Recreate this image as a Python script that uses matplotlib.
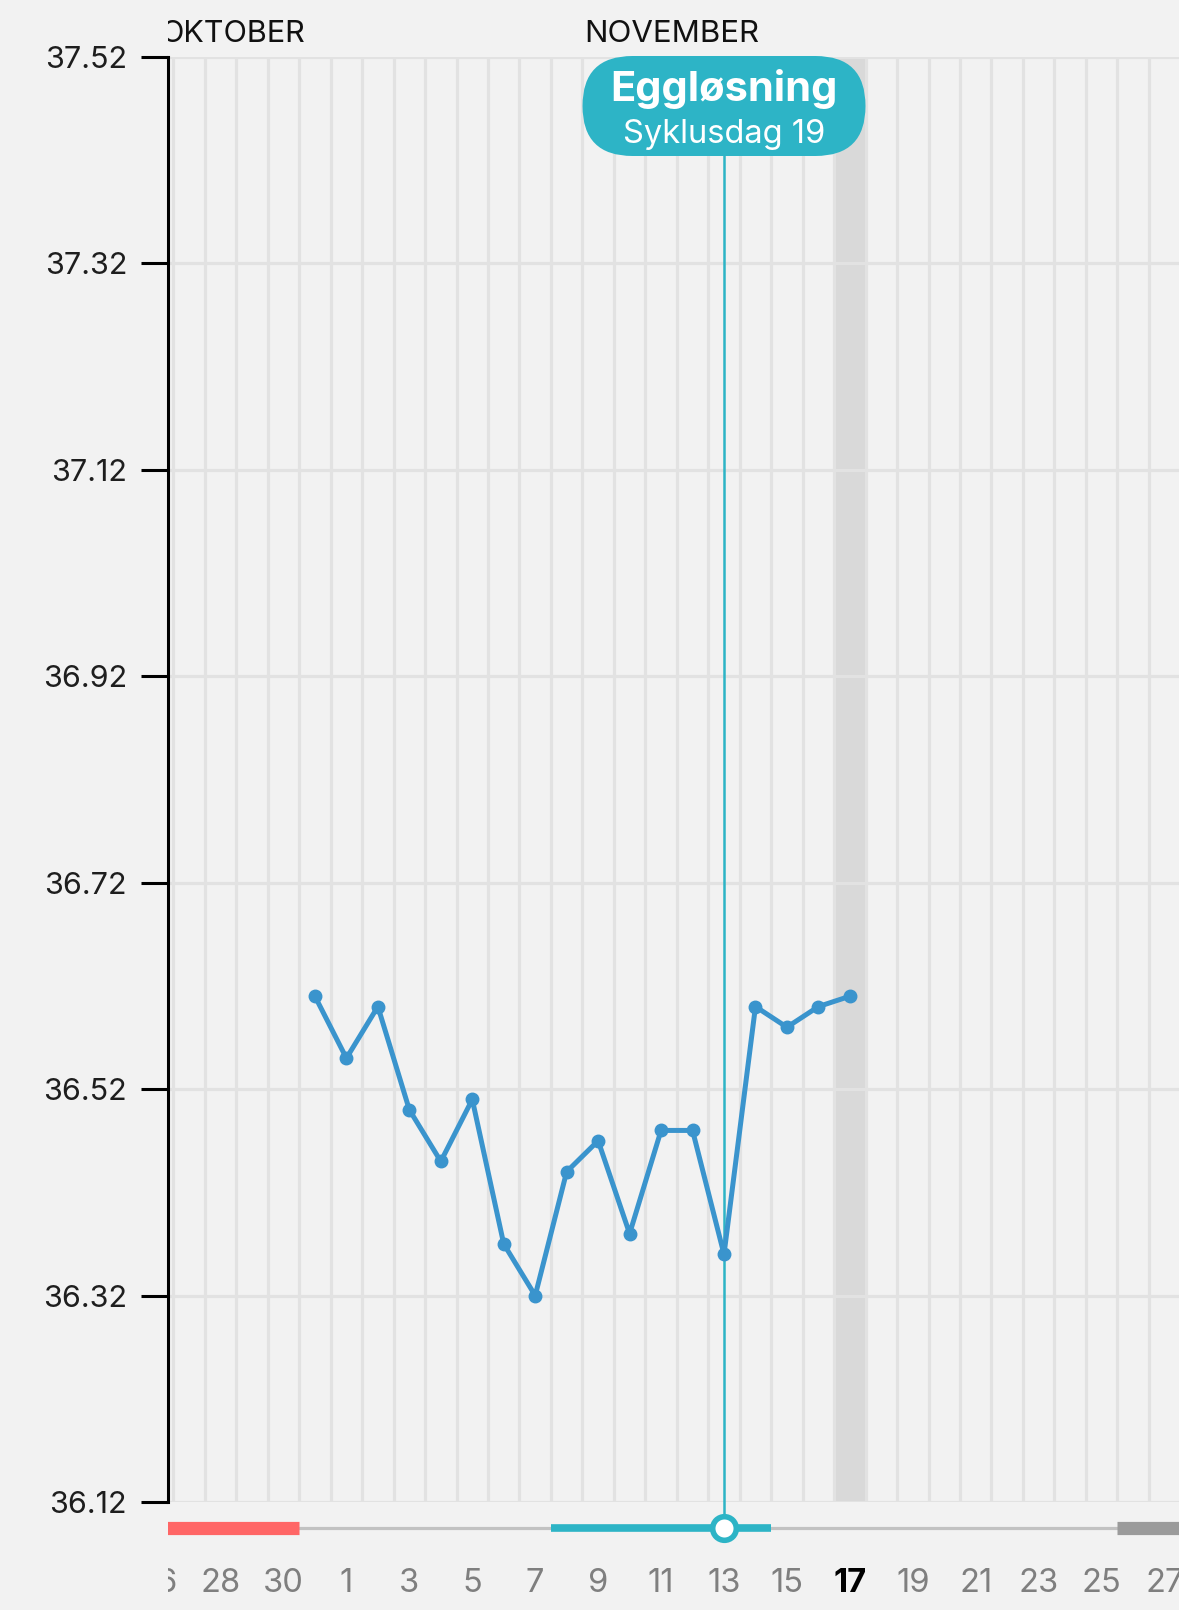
import numpy as np
import pandas as pd
import matplotlib
matplotlib.use("Agg")
import matplotlib.pyplot as plt
from matplotlib.patches import FancyBboxPatch

plt.rcParams['font.family'] = ['Inter', 'DejaVu Sans']

# data
cycle_start = pd.Timestamp('2023-10-26')
temp_dates = pd.date_range('2023-10-31', '2023-11-17')
temps = [36.61, 36.55, 36.60, 36.50, 36.45, 36.51, 36.37, 36.32, 36.44,
         36.47, 36.38, 36.48, 36.48, 36.36, 36.60, 36.58, 36.60, 36.61]
ovulation = pd.Timestamp('2023-11-13')
cycle_day = 19
today = pd.Timestamp('2023-11-17')
period = ('2023-10-26', '2023-10-30')
fertile = ('2023-11-08', '2023-11-14')
next_period = ('2023-11-26', '2023-12-01')
y_ticks = [36.12, 36.32, 36.52, 36.72, 36.92, 37.12, 37.32, 37.52]
months = ['OKTOBER', 'NOVEMBER']
label_dates = pd.date_range('2023-10-26', '2023-11-27', freq='2D')

W, H, DPI = 1179, 1610, 100
BG = '#f2f2f2'
TEAL = '#2db4c6'
BLUE = '#3a94cd'
GRID = '#e2e2e2'


def idx(d):
    return (pd.Timestamp(d) - cycle_start).days


xmin, xmax = 0.33, 32.46

fig = plt.figure(figsize=(W / DPI, H / DPI), dpi=DPI, facecolor=BG)

# main chart
ax = fig.add_axes([168 / W, 1 - 1502 / H, 1 - 168 / W, (1502 - 57) / H])
ax.set_facecolor(BG)
ax.set_xlim(xmin, xmax)
ax.set_ylim(y_ticks[0], y_ticks[-1])

for k in range(-1, 34):
    ax.axvline(k + 0.5, color=GRID, lw=2.3, zorder=1)
for t in y_ticks:
    ax.axhline(t, color=GRID, lw=2.3, zorder=1)
ax.axvspan(idx(today) - 0.5, idx(today) + 0.5, color='#d9d9d9', lw=0, zorder=0.5)

xs = [idx(d) for d in temp_dates]
ax.plot(xs, temps, color=BLUE, lw=3.6, marker='o', ms=9, zorder=5,
        solid_joinstyle='round')

ax.axvline(idx(ovulation), ymin=-0.018, ymax=1, color=TEAL, lw=1.8,
           clip_on=False, zorder=4)

for s in ['top', 'right', 'bottom']:
    ax.spines[s].set_visible(False)
ax.spines['left'].set_linewidth(2.2)
ax.spines['left'].set_color('black')
ax.set_xticks([])
ax.set_yticks(y_ticks)
ax.set_yticklabels(['%.2f' % t for t in y_ticks])
ax.tick_params(axis='y', length=19.5, width=2.2, color='black', pad=10,
               labelsize=22, labelcolor='#1e1e1e')

# month strip above chart
axm = fig.add_axes([168 / W, 1 - 57 / H, 1 - 168 / W, 57 / H])
axm.set_xlim(xmin, xmax)
axm.set_ylim(57, 0)
axm.axis('off')
axm.text(4.68, 42, months[0], ha='right', va='baseline', fontsize=22,
         color='#111111', clip_on=True)
axm.text(16.35, 42, months[1], ha='center', va='baseline', fontsize=22.5,
         color='#111111', clip_on=True)

# cycle strip and day labels below chart
axs = fig.add_axes([168 / W, 0, 1 - 168 / W, (H - 1502) / H])
axs.set_xlim(xmin, xmax)
axs.set_ylim(H, 1502)
axs.axis('off')
yb = 1528
axs.plot([xmin, xmax], [yb, yb], color='#c2c2c2', lw=2.3,
         solid_capstyle='butt', zorder=1)
axs.plot([idx(period[0]) - 0.5, idx(period[1]) + 0.5], [yb, yb],
         color='#ff6666', lw=9.5, solid_capstyle='butt', zorder=2)
axs.plot([idx(fertile[0]) - 0.5, idx(fertile[1]) + 0.5], [yb, yb],
         color=TEAL, lw=5.5, solid_capstyle='butt', zorder=2)
axs.plot([idx(next_period[0]) - 0.5, idx(next_period[1]) + 0.5], [yb, yb],
         color='#9b9b9b', lw=9.5, solid_capstyle='butt', zorder=2)
axs.plot([idx(ovulation)], [yb], marker='o', ms=17, mew=4,
         mfc='white', mec=TEAL, zorder=3)

for d in label_dates:
    bold = d == today
    axs.text(idx(d), 1592, str(d.day), ha='center', va='baseline',
             fontsize=23.5, color='black' if bold else '#7f7f7f',
             fontweight='bold' if bold else 'normal', clip_on=True)

# ovulation bubble
ov_x = ax.transData.transform((idx(ovulation), y_ticks[0]))[0]
axo = fig.add_axes([0, 0, 1, 1])
axo.set_xlim(0, W)
axo.set_ylim(H, 0)
axo.axis('off')
bw, bh = 283, 100
axo.add_patch(FancyBboxPatch((ov_x - bw / 2, 56), bw, bh,
                             boxstyle='round,pad=0,rounding_size=50',
                             fc=TEAL, ec='none', zorder=5))
axo.text(ov_x, 101, 'Eggløsning', ha='center', va='baseline', fontsize=30,
         fontweight='bold', color='white', zorder=6)
axo.text(ov_x, 143, 'Syklusdag %d' % cycle_day, ha='center', va='baseline',
         fontsize=23.5, color='white', zorder=6)

fig.savefig('out.png', dpi=DPI, facecolor=BG)
